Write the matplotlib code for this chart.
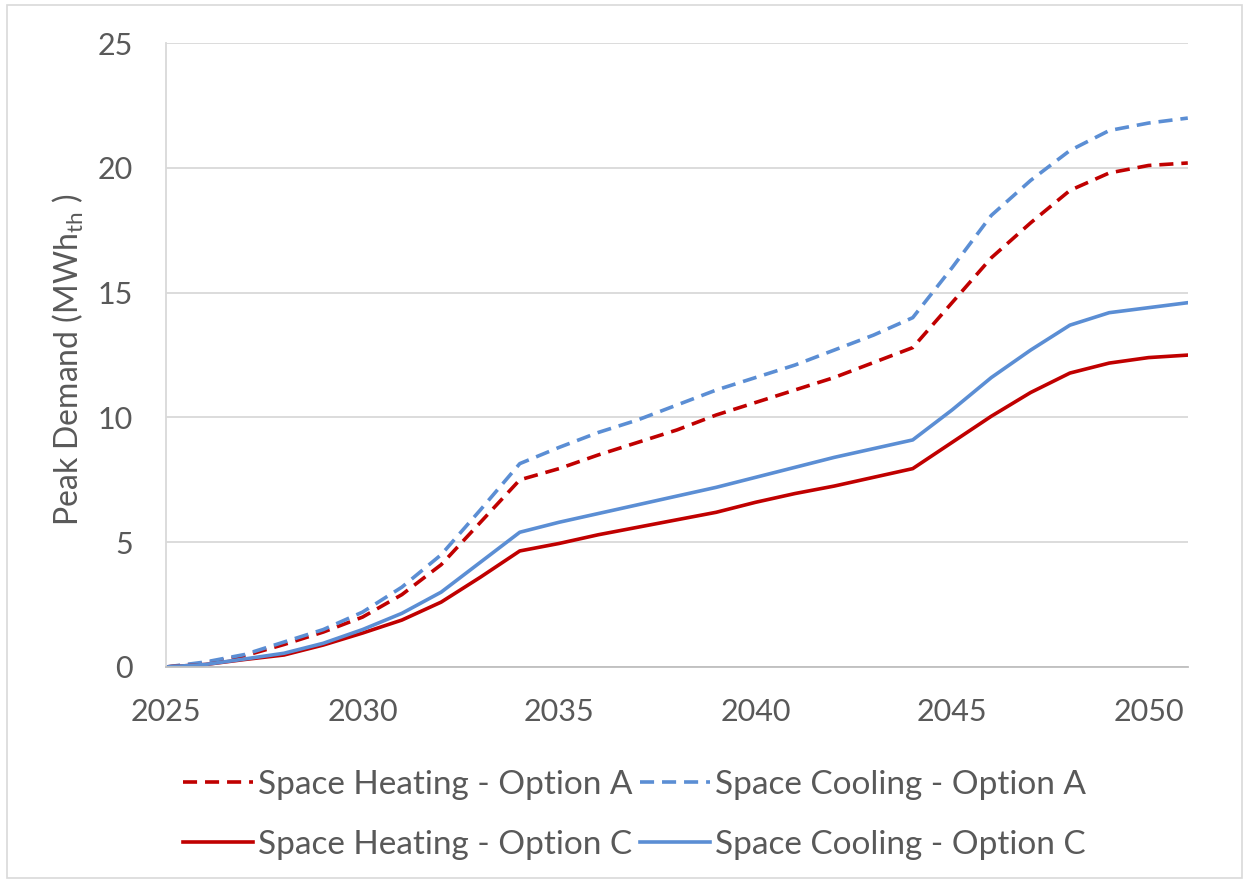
import matplotlib
matplotlib.use("Agg")
from matplotlib import pyplot as plt
from matplotlib.patches import Rectangle

# data
years = list(range(2025, 2052))
heat_a = [0, 0.15, 0.45, 0.9, 1.4, 2.0, 2.9, 4.1, 5.8, 7.5, 7.95, 8.5, 9.0, 9.5, 10.1,
          10.6, 11.1, 11.6, 12.2, 12.8, 14.6, 16.4, 17.8, 19.1, 19.8, 20.1, 20.2]
cool_a = [0, 0.2, 0.5, 1.0, 1.5, 2.2, 3.2, 4.5, 6.3, 8.15, 8.8, 9.4, 9.9, 10.5, 11.1,
          11.6, 12.1, 12.7, 13.3, 14.0, 16.0, 18.1, 19.5, 20.7, 21.5, 21.8, 22.0]
heat_c = [0, 0.1, 0.3, 0.48, 0.88, 1.36, 1.88, 2.6, 3.6, 4.65, 4.95, 5.3, 5.6, 5.9, 6.2,
          6.6, 6.95, 7.25, 7.6, 7.95, 9.0, 10.05, 11.0, 11.78, 12.18, 12.4, 12.5]
cool_c = [0, 0.1, 0.32, 0.55, 0.95, 1.5, 2.15, 3.0, 4.2, 5.4, 5.8, 6.15, 6.5, 6.85, 7.2,
          7.6, 8.0, 8.4, 8.75, 9.1, 10.3, 11.6, 12.7, 13.7, 14.2, 14.4, 14.6]
labels = ["Space Heating - Option A", "Space Cooling - Option A",
          "Space Heating - Option C", "Space Cooling - Option C"]

red = "#C00000"
blue = "#5B8ED4"
grey = "#595959"

plt.rcParams['font.family'] = ['Lato', 'DejaVu Sans']
plt.rcParams['mathtext.fontset'] = 'custom'
plt.rcParams['mathtext.rm'] = 'Lato'

fig = plt.figure(figsize=(12.49, 8.82), dpi=100)
ax = fig.add_axes([0.133, 0.2438, 0.818, 0.7072])

l1, = ax.plot(years, heat_a, color=red, lw=2.6, dashes=(3.9, 2.2))
l2, = ax.plot(years, cool_a, color=blue, lw=2.6, dashes=(3.9, 2.2))
l3, = ax.plot(years, heat_c, color=red, lw=2.6)
l4, = ax.plot(years, cool_c, color=blue, lw=2.6)

ax.set_xlim(2025, 2051)
ax.set_ylim(0, 25)
ax.set_xticks(range(2025, 2051, 5))
ax.set_yticks(range(0, 26, 5))
ax.tick_params(length=0, labelsize=22, labelcolor=grey)
ax.tick_params(axis='y', pad=24)
ax.tick_params(axis='x', pad=22)
ax.grid(axis='y', color='#D9D9D9', lw=1.3)
ax.set_axisbelow(True)
for s in ['top', 'right']:
    ax.spines[s].set_visible(False)
ax.spines['left'].set_color('#D9D9D9')
ax.spines['bottom'].set_color('#BFBFBF')
ax.spines['left'].set_linewidth(1.3)
ax.spines['bottom'].set_linewidth(1.3)

fig.text(0.055, 0.592, r'Peak Demand (MWh$_{\mathrm{th}}$ )', rotation=90,
         ha='center', va='center', fontsize=23, color=grey)

# column-major order so rows read: A on top, C below
fig.legend([l1, l3, l2, l4], [labels[0], labels[2], labels[1], labels[3]],
           loc='center', bbox_to_anchor=(0.508, 0.076), ncol=2, frameon=False,
           fontsize=24, labelcolor=grey, handlelength=2.1, handletextpad=0.15,
           columnspacing=0.2, labelspacing=0.9, borderpad=0)

# thin frame around the whole chart
fig.patches.append(Rectangle((0.006, 0.004), 0.988, 0.99, transform=fig.transFigure,
                             fill=False, ec='#D9D9D9', lw=1.2))

fig.savefig("out.png", dpi=100)
